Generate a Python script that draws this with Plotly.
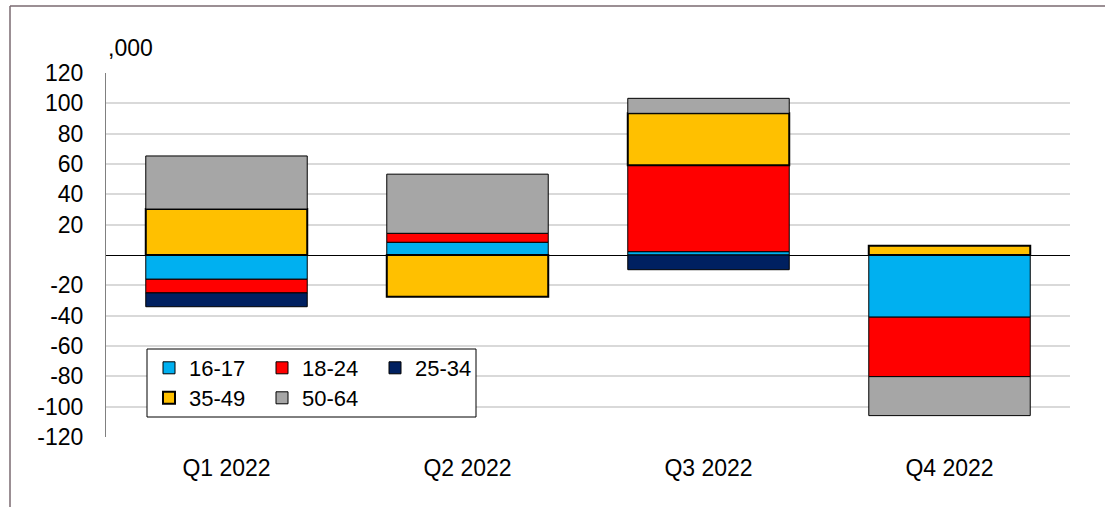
import plotly.graph_objects as go

quarters = ['Q1 2022', 'Q2 2022', 'Q3 2022', 'Q4 2022']
age_groups = ['16-17', '18-24', '25-34', '35-49', '50-64']

# change on the quarter, thousands
v_16_17 = [-16.0, 8.4, 2.2, -41.0]
v_18_24 = [-9.0, 5.9, 56.9, -39.2]
v_25_34 = [-9.1, None, -9.7, None]
v_35_49 = [30.3, -27.5, 34.3, 6.1]
v_50_64 = [35.0, 39.0, 9.9, -25.7]

y_ticks = [120, 100, 80, 60, 40, 20, -20, -40, -60, -80, -100, -120]
y_labels = ['120', '100', '80', '60', '40', '20', '-20', '-40', '-60', '-80', '-100', '-120']

W, H = 1105, 507
L, R, T, B = 106, 35, 73, 70
PW, PH = W - L - R, H - T - B


def px_x(x):
    return (x - L) / PW


def px_y(y):
    return (H - B - y) / PH


colors = ['#00B0F0', '#FF0000', '#002060', '#FFC000', '#A6A6A6']
line_w = [1, 1, 1, 2, 1]
legends = ['legend', 'legend', 'legend', 'legend2', 'legend2']
series = [v_16_17, v_18_24, v_25_34, v_35_49, v_50_64]

fig = go.Figure()
for name, vals, c, lw, lg in zip(age_groups, series, colors, line_w, legends):
    fig.add_trace(go.Bar(
        x=quarters, y=vals, name=name, legend=lg,
        marker=dict(color=c, line=dict(color='black', width=lw)),
    ))

font = dict(family='Liberation Sans, Arial, sans-serif', size=22, color='black')
axis_font = dict(family='Liberation Sans, Arial, sans-serif', size=23, color='black')
leg_common = dict(orientation='h', xanchor='left', yanchor='middle',
                  bgcolor='rgba(0,0,0,0)', borderwidth=0, font=font,
                  entrywidth=68, entrywidthmode='pixels', traceorder='normal')

fig.update_layout(
    width=W, height=H,
    margin=dict(l=L, r=R, t=T, b=B),
    barmode='relative', bargap=0.33,
    plot_bgcolor='white', paper_bgcolor='white',
    font=font,
    legend=dict(x=px_x(149), y=px_y(368), **leg_common),
    legend2=dict(x=px_x(149), y=px_y(398), **leg_common),
    xaxis=dict(showgrid=False, ticks='', ticklabelstandoff=15, showline=False,
               tickfont=axis_font),
    yaxis=dict(range=[-120, 120], tickvals=y_ticks, ticktext=y_labels, ticks='',
               ticklabelstandoff=17, tickfont=axis_font,
               showgrid=True, gridcolor='#d9d9d9', gridwidth=1.5,
               zeroline=True, zerolinecolor='black', zerolinewidth=1,
               showline=True, linecolor='#808080', linewidth=1),
    annotations=[dict(text=',000', x=0, y=px_y(48), xref='paper', yref='paper',
                      xanchor='left', yanchor='middle', showarrow=False, font=axis_font)],
    shapes=[
        # legend box
        dict(type='rect', xref='paper', yref='paper', layer='above',
             x0=px_x(147), x1=px_x(476), y0=px_y(417), y1=px_y(349),
             fillcolor='white', line=dict(color='black', width=1)),
        # outer frame, top and left only
        dict(type='line', xref='paper', yref='paper',
             x0=px_x(10), x1=px_x(W), y0=px_y(6), y1=px_y(6),
             line=dict(color='#7a6a70', width=1.5)),
        dict(type='line', xref='paper', yref='paper',
             x0=px_x(10), x1=px_x(10), y0=px_y(6), y1=px_y(H),
             line=dict(color='#7a6a70', width=1.5)),
    ],
)

fig.write_html('out.html', config={'displayModeBar': False},
               post_script="document.body.style.margin='0px';")
